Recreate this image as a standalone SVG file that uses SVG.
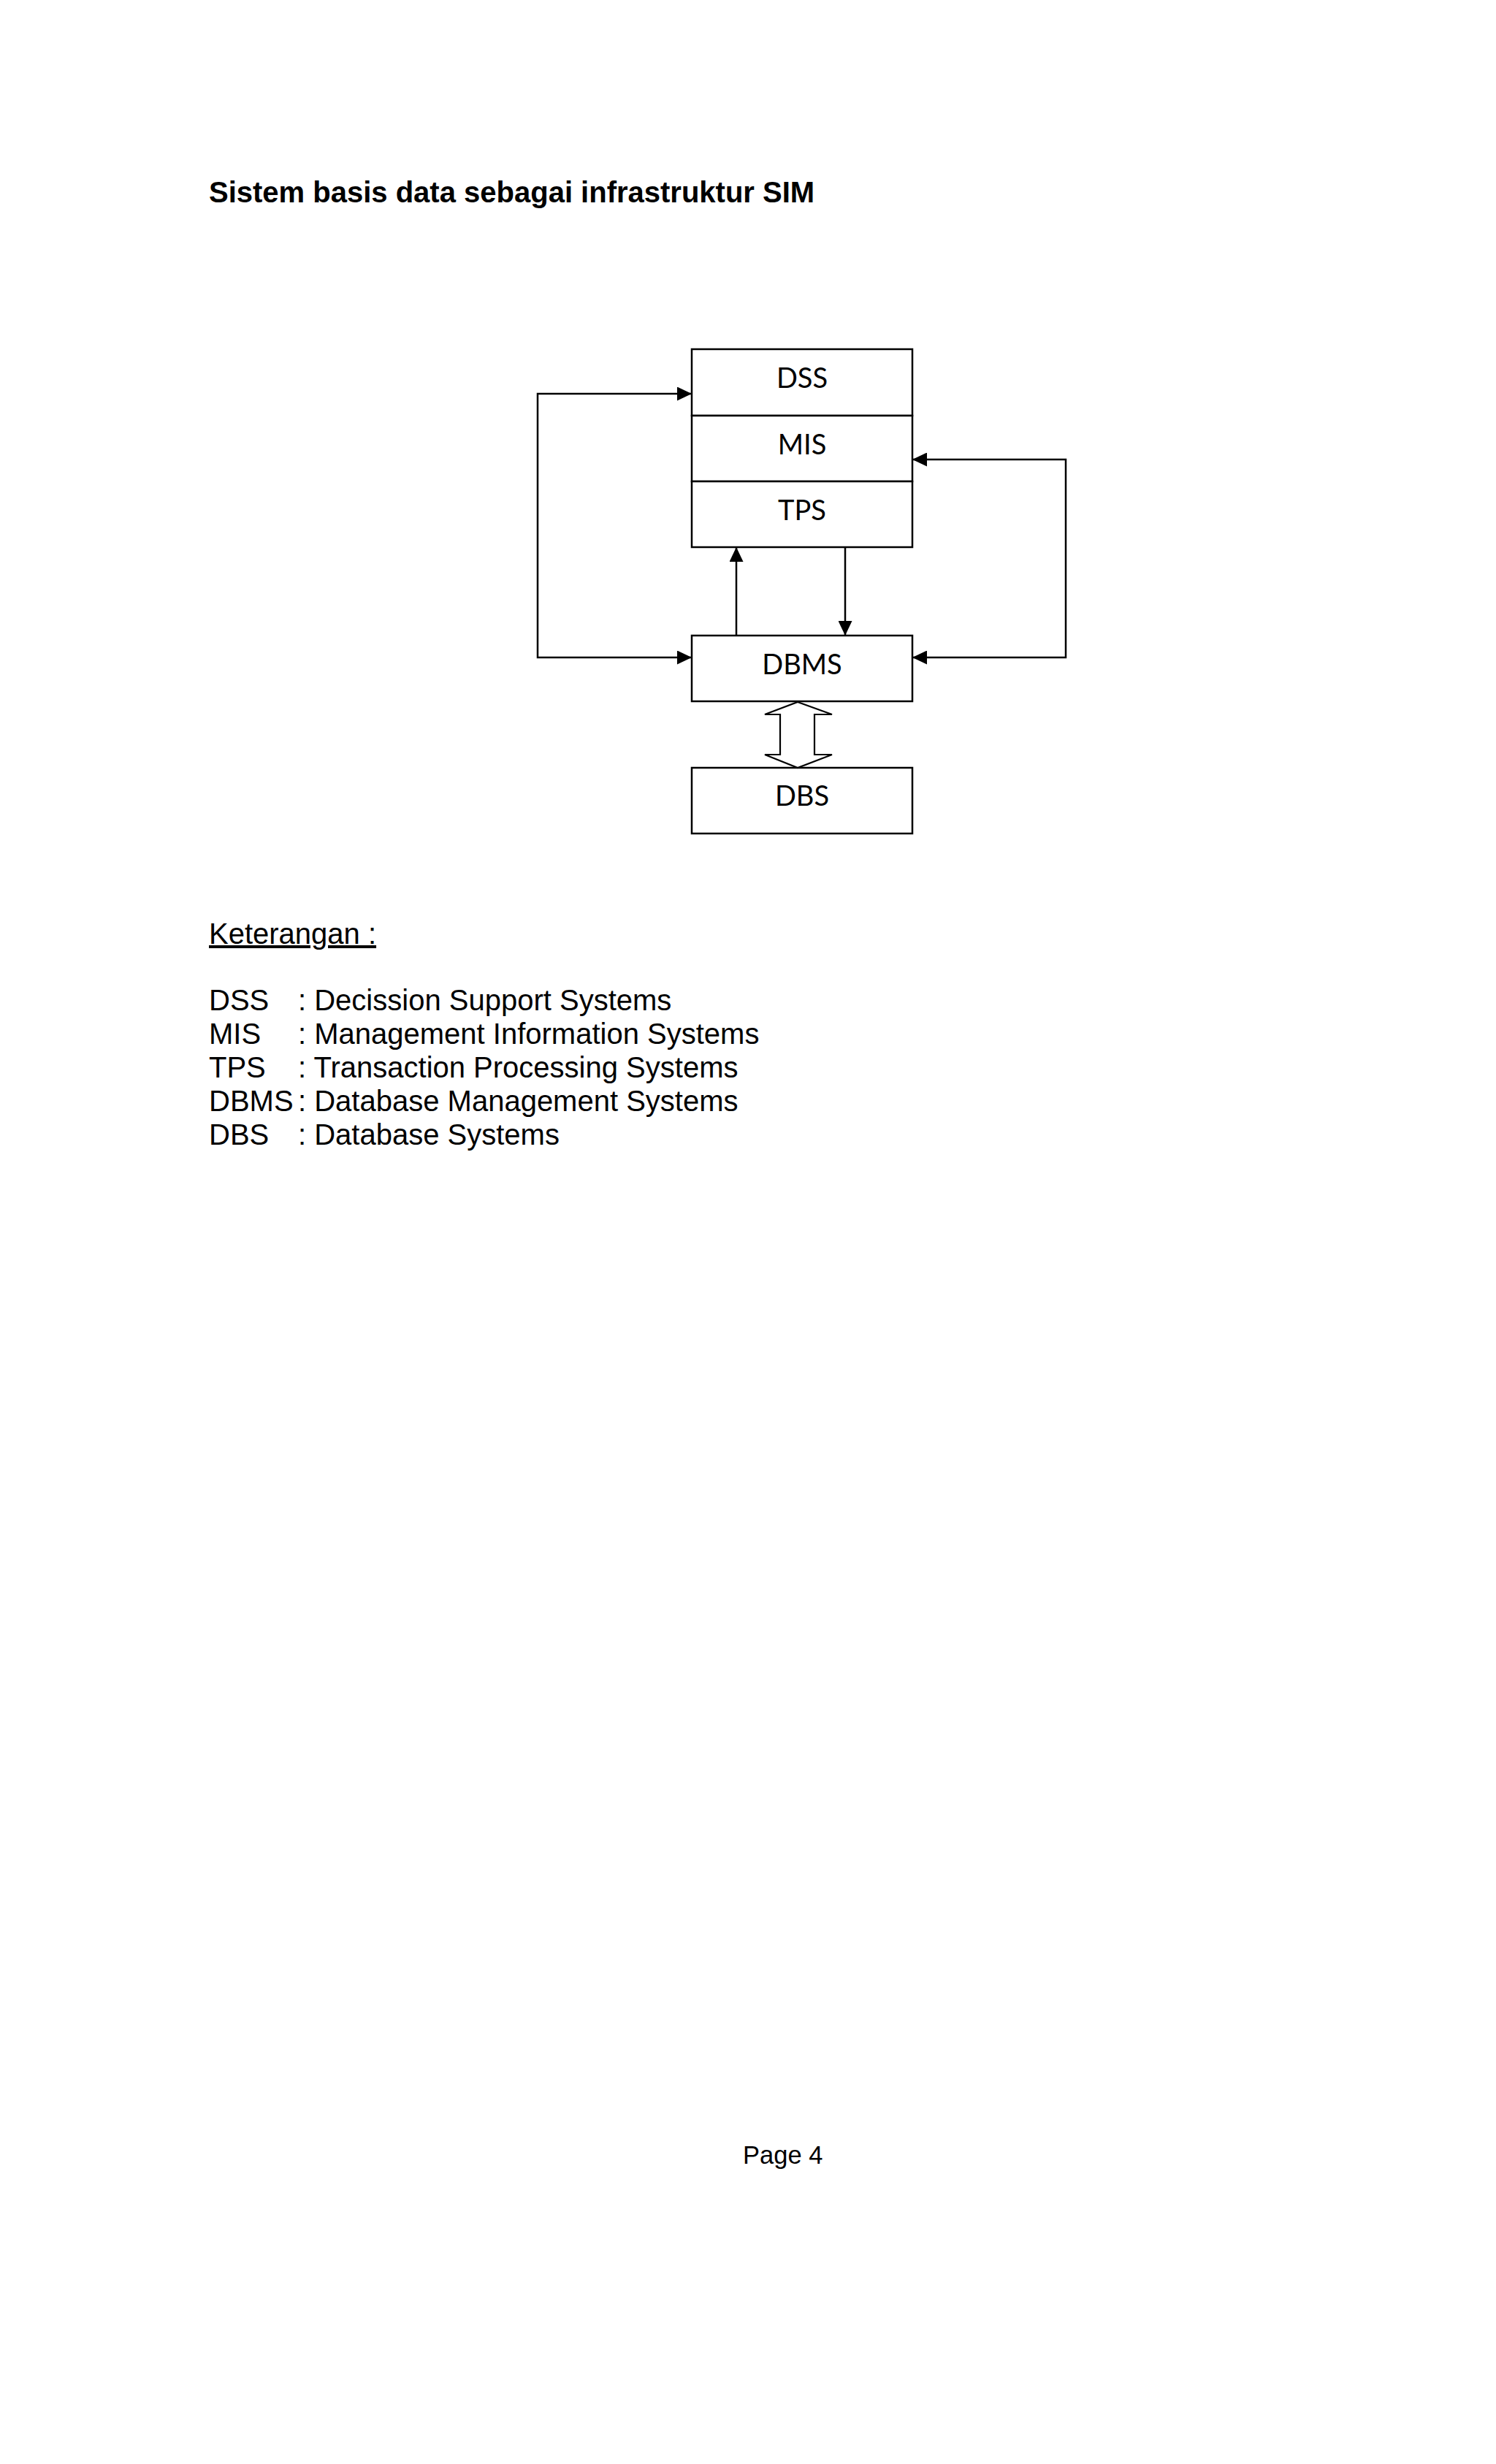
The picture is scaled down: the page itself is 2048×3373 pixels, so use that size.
<svg xmlns="http://www.w3.org/2000/svg" width="2048" height="3373" viewBox="0 0 2048 3373">
<style>
.bg{fill:#ffffff}
.box{fill:#ffffff;stroke:#000000;stroke-width:2.5}
.lbl{font-family:Lato,"Open Sans",sans-serif;font-size:38px;fill:#000000;text-anchor:middle}
.ln{fill:none;stroke:#000000;stroke-width:2.5}
.dbl{fill:#ffffff;stroke:#000000;stroke-width:2.2;stroke-linejoin:miter}
.t{font-family:"Liberation Sans",Arial,sans-serif;font-size:40px;fill:#000000}
.title{font-weight:bold}
.u{text-decoration:underline}
.pg{font-family:"Liberation Sans",Arial,sans-serif;font-size:34.5px;fill:#000000}
</style>
<defs>
<marker id="ah" markerUnits="userSpaceOnUse" markerWidth="20" markerHeight="19" refX="20" refY="9.5" orient="auto-start-reverse">
<path d="M0,0 L20,9.5 L0,19 z" fill="#000000"/>
</marker>
</defs>
<rect class="bg" x="0" y="0" width="2048" height="3373"/>
<text class="t title" x="286" y="277">Sistem basis data sebagai infrastruktur SIM</text>

<g id="node-dss">
<rect class="box" x="947" y="478" width="302" height="91"/>
<text class="lbl" x="1098" y="531">DSS</text>
</g>
<g id="node-mis">
<rect class="box" x="947" y="569" width="302" height="90"/>
<text class="lbl" x="1098" y="622">MIS</text>
</g>
<g id="node-tps">
<rect class="box" x="947" y="659" width="302" height="90"/>
<text class="lbl" x="1098" y="712">TPS</text>
</g>
<g id="node-dbms">
<rect class="box" x="947" y="870" width="302" height="90"/>
<text class="lbl" x="1098" y="923">DBMS</text>
</g>
<g id="node-dbs">
<rect class="box" x="947" y="1051" width="302" height="90"/>
<text class="lbl" x="1098" y="1103">DBS</text>
</g>

<g id="connectors">
<polyline class="ln" points="947,539 736,539 736,900 947,900" marker-start="url(#ah)" marker-end="url(#ah)"/>
<polyline class="ln" points="1249,629 1459,629 1459,900 1249,900" marker-start="url(#ah)" marker-end="url(#ah)"/>
<line class="ln" x1="1008" y1="870" x2="1008" y2="749" marker-end="url(#ah)"/>
<line class="ln" x1="1157" y1="749" x2="1157" y2="870" marker-end="url(#ah)"/>
<polygon class="dbl" points="1092,961 1139,978 1115,978 1115,1033 1139,1033 1092,1051 1047,1033 1068,1033 1068,978 1047,978"/>
</g>

<g id="legend">
<text class="t u" x="286" y="1292">Keterangan :</text>
<text class="t" x="286" y="1383">DSS</text><text class="t" x="408" y="1383">: Decission Support Systems</text>
<text class="t" x="286" y="1429">MIS</text><text class="t" x="408" y="1429">: Management Information Systems</text>
<text class="t" x="286" y="1475">TPS</text><text class="t" x="408" y="1475">: Transaction Processing Systems</text>
<text class="t" x="286" y="1521">DBMS</text><text class="t" x="408" y="1521">: Database Management Systems</text>
<text class="t" x="286" y="1567">DBS</text><text class="t" x="408" y="1567">: Database Systems</text>
</g>

<text class="pg" x="1017" y="2962">Page 4</text>
</svg>
